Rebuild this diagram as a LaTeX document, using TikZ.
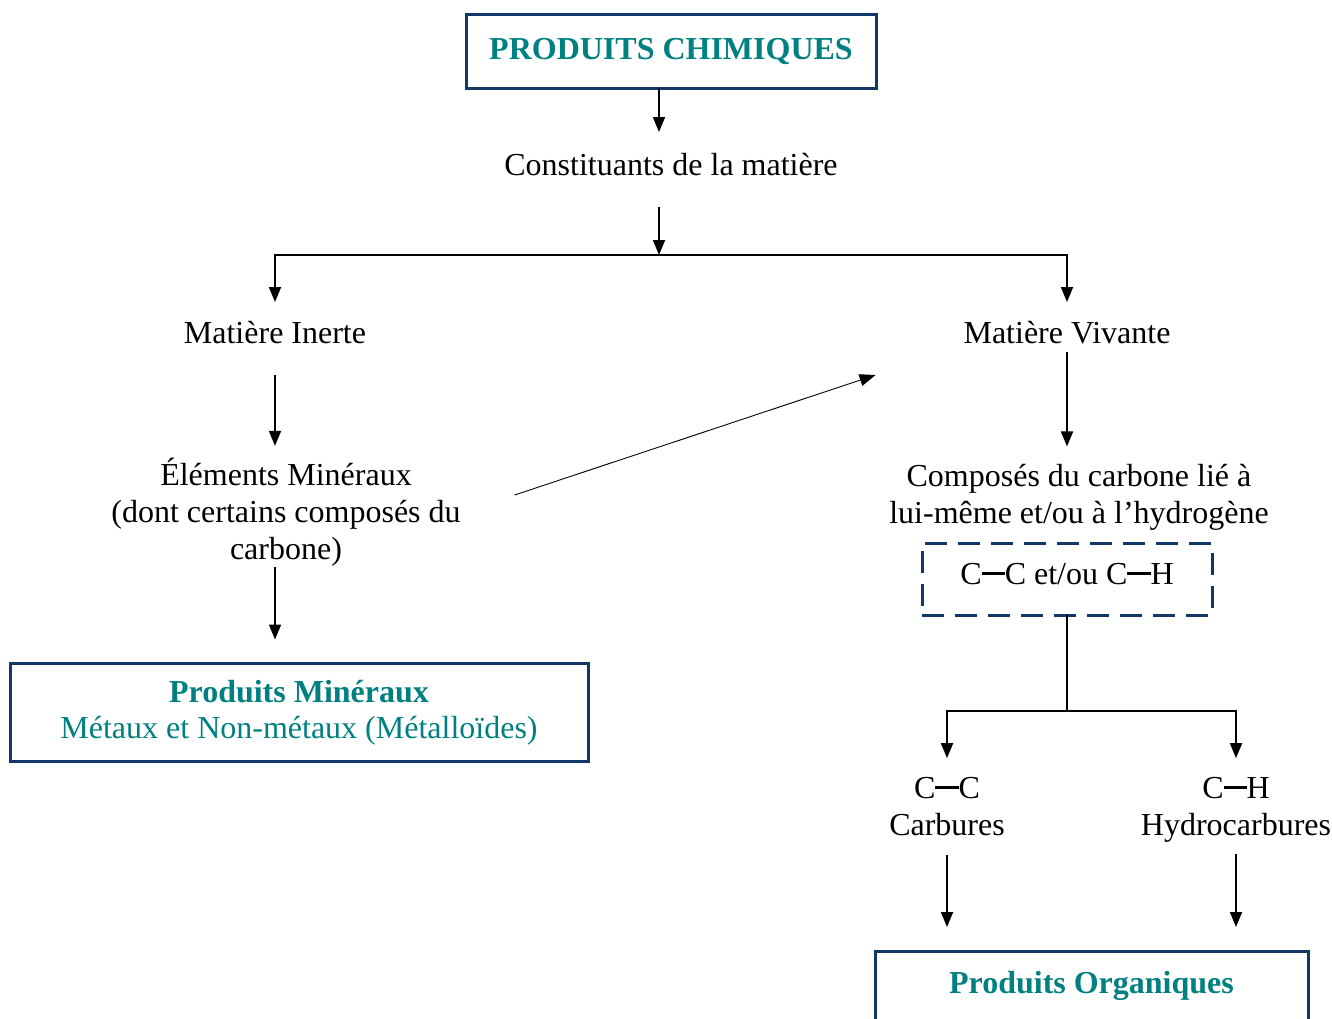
\documentclass[tikz,border=0pt]{standalone}
\usepackage{fontspec}
\setmainfont{Liberation Serif}
\usepackage{tikz}
\usetikzlibrary{arrows.meta}
\definecolor{boxblue}{RGB}{18,55,105}
\definecolor{tealtext}{RGB}{0,128,128}
\newcommand{\bnd}{\rule[0.28em]{0.72em}{0.1em}}

\begin{document}
\begin{tikzpicture}[x=1pt,y=-1pt,
    lbl/.style={inner sep=0pt, outer sep=0pt, font=\fontsize{32}{37}\selectfont, align=center},
    one/.style={lbl, text height=22pt, text depth=7pt, anchor=base},
    frame/.style={lbl, draw=boxblue, line width=3pt, text=tealtext},
    arr/.style={line width=1.8pt, -{Triangle[length=15pt,width=12pt]}},
    thin arr/.style={line width=0.9pt, -{Triangle[length=16pt,width=12pt]}},
    plain/.style={line width=1.8pt}]
\useasboundingbox (0,0) rectangle (1332,1018);
\node[frame, minimum width=410pt, minimum height=74pt] (top) at (671,51) {\bfseries PRODUITS CHIMIQUES};
\node[one] (const) at (671,175) {Constituants de la matière};
\coordinate (split) at (659,255);
\node[one] (inerte) at (275,343) {Matière Inerte};
\node[one] (vivante) at (1067,343) {Matière Vivante};
\node[lbl] (elem) at (286,512) {Éléments Minéraux\\(dont certains composés du\\carbone)};
\node[lbl] (comp) at (1079,497.5) {Composés du carbone lié à\\lui-même et/ou à l’hydrogène};
\node[lbl, text height=22pt, text depth=12pt, draw=boxblue, line width=3pt, dash pattern=on 22pt off 11pt, minimum width=290pt, minimum height=72pt] (chain) at (1067,579) {C\bnd C et/ou C\bnd H};
\coordinate (fork) at (1067,711);
\node[lbl] (cc) at (947,806.4) {C\bnd C\\Carbures};
\node[lbl] (ch) at (1236,809.7) {C\bnd H\\Hydrocarbures};
\node[frame, minimum width=578pt, minimum height=98pt] (mineral) at (299,712.5) {\bfseries Produits Minéraux\\[-1pt]Métaux et Non-métaux (Métalloïdes)};
\node[frame, minimum width=433pt, minimum height=110pt, anchor=north] (org) at (1091.5,951) {};
\node[one, text=tealtext] (orgtitle) at (1091.5,993) {\bfseries Produits Organiques};

\draw[arr, shorten >=21pt] (top.south -| split) -- (const.north -| split);
\draw[arr, shorten <=25pt] (const.south -| split) -- (split);
\draw[arr, shorten >=19pt] (split) -| (inerte.north);
\draw[arr, shorten >=19pt] (split) -| (vivante.north);
\draw[arr, shorten <=25pt, shorten >=12pt] (inerte.south) -- (elem.north -| inerte.south);
\draw[arr, shorten <=1pt, shorten >=24pt] (elem.south -| inerte.south) -- (mineral.north -| inerte.south);
\draw[thin arr] ([xshift=54pt,yshift=17pt]elem.east) -- ([xshift=-88pt,yshift=-39.5pt]vivante.west);
\draw[arr, shorten <=2pt, shorten >=18pt] (vivante.south) -- (comp.north -| vivante.south);
\draw[plain] (chain.south) -- (fork);
\draw[arr, shorten >=19pt] (fork) -| (cc.north);
\draw[arr, shorten >=19pt] (fork) -| (ch.north);
\draw[arr, shorten <=19pt, shorten >=24pt] (cc.south) -- (org.north -| cc.south);
\draw[arr, shorten <=12pt, shorten >=24pt] (ch.south) -- (org.north -| ch.south);
\end{tikzpicture}
\end{document}
